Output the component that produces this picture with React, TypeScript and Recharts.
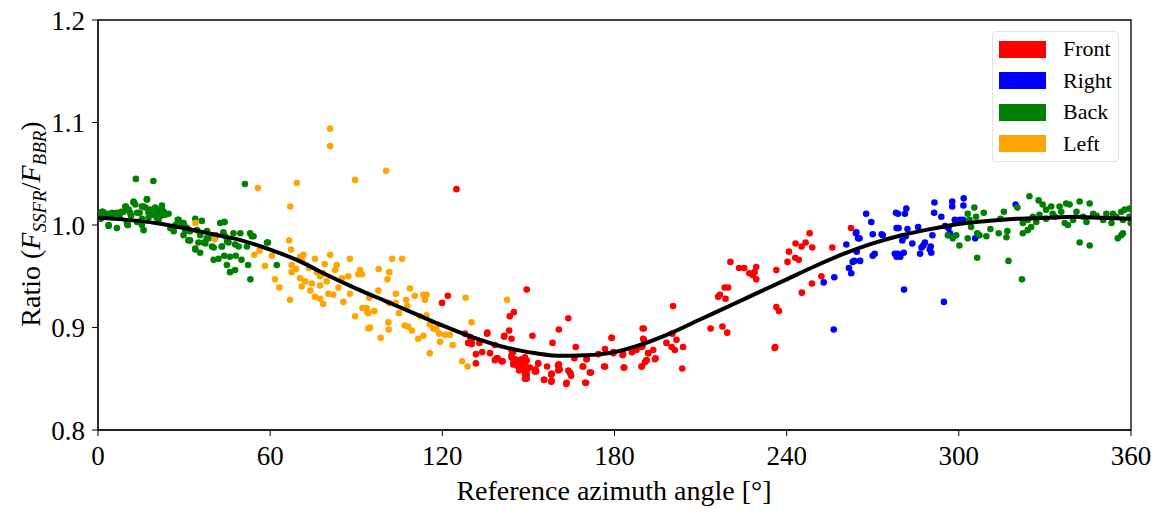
import React from 'react';
import { ScatterChart, Scatter, XAxis, YAxis, ReferenceArea, Legend } from 'recharts';

const X_TICKS = [0, 60, 120, 180, 240, 300, 360];
const Y_TICKS = [0.8, 0.9, 1.0, 1.1, 1.2];

const BACK: [number, number][] = [
  [1.7, 1.013], [4.3, 1.011], [6.6, 1.012], [8.9, 1.013], [9.5, 1.018], [10.7, 1.015], [12.4, 1.023], [13, 1.02],
  [15.9, 1.018], [17, 1.025], [18.2, 1.015], [20, 1.016], [22.3, 1.015], [23.4, 1.011], [24.6, 1.011], [3.7, 1.0],
  [6.6, 0.997], [10.3, 1.0], [13.6, 1.003], [15.9, 0.995], [15.3, 1.0], [17.6, 1.007], [20.5, 1.007], [21.1, 1.005],
  [25.2, 0.997], [26.4, 0.994], [28.1, 1.005], [29.8, 1.002], [31, 0.997], [32.1, 0.994], [31.5, 0.985], [33.9, 1.006],
  [36.2, 1.004], [34.5, 0.995], [35.6, 0.99], [33.9, 0.976], [35.6, 0.973], [37.4, 0.982], [38.5, 0.987], [40.3, 0.978],
  [42.6, 1.002], [44, 1.003], [43.7, 0.993], [43.1, 0.979], [42, 0.967], [40.3, 0.966], [44.9, 0.961], [46, 0.969],
  [47.8, 0.956], [46, 0.954], [47.2, 0.992], [49.6, 0.992], [49, 0.979], [51.9, 0.979], [53, 0.992], [54.2, 0.989],
  [52.3, 0.961], [53.1, 0.947], [58.9, 0.983], [62.3, 0.961], [13.2, 1.045], [19.3, 1.043], [51.2, 1.04],
  [0.5, 1.01], [1, 1.006], [2.5, 1.009], [5, 1.008], [7.5, 1.009], [11.5, 1.009], [14.5, 1.012], [19, 1.01],
  [22, 1.009], [27, 1.0], [30, 1.0], [38, 0.994], [41, 0.99], [45, 0.984], [48, 0.97], [50, 0.966], [44, 0.97],
  [1.4, 1.013], [3.1, 1.011], [4.9, 1.012], [8.1, 1.013], [9.7, 1.018], [11.2, 1.012], [12.4, 1.022], [13.6, 1.012],
  [15.3, 1.018], [16.5, 1.017], [17.1, 1.025], [17.6, 1.012], [19.9, 1.017], [20.5, 1.012], [21.6, 1.015],
  [22.9, 1.013], [23.4, 1.01], [22.3, 1.019], [3.7, 0.999], [10.1, 1.002], [10.4, 1.0], [15.3, 1.006],
  [25.8, 0.997], [27.8, 1.005], [29.2, 1.002], [30.4, 0.994], [29.8, 0.99], [32.1, 0.985], [33.9, 0.977],
  [35, 0.983], [36.8, 0.983], [37.9, 0.987], [39.7, 0.979], [44.1, 1.003], [44.3, 0.989], [43.2, 0.979],
  [47.8, 0.981], [53.6, 0.989], [59.2, 0.983], [40.8, 0.988], [45.5, 0.983],
  [303.1, 1.011], [305.4, 1.017], [308.7, 1.012], [306, 1.008], [303.7, 1.005], [304.3, 0.998], [303.1, 0.987],
  [306.4, 0.992], [307.2, 0.99], [309.6, 0.989], [311, 0.996], [297.9, 0.987], [299.1, 0.99], [300.2, 0.98],
  [296.2, 0.99], [306.4, 0.968], [313.9, 0.992], [316.9, 0.994], [316.6, 0.988], [315.7, 1.013], [314.5, 1.006],
  [317.3, 0.965], [322, 0.947], [320.4, 1.017], [324.6, 1.028], [327.8, 1.024], [329.2, 1.02], [330.4, 1.015],
  [332.2, 1.018], [322.3, 1.002], [324, 1.005], [325.8, 1.008], [327, 1.003], [328.1, 1.01], [330.4, 1.006],
  [332.7, 1.011], [322.3, 0.992], [324, 0.995], [325.2, 0.998], [335.1, 1.018], [337.4, 1.021], [338.6, 1.02],
  [335.7, 1.013], [336.9, 1.002], [338, 1.0], [339.8, 1.005], [341, 1.013], [342.1, 1.023], [343.3, 1.008],
  [344.5, 1.003], [345.6, 1.021], [346.8, 1.011], [342.1, 0.983], [345.6, 0.98], [350.3, 1.005], [351.4, 1.011],
  [353.7, 1.011], [353.2, 1.002], [354.9, 1.008], [356.6, 1.013], [357.8, 1.015], [359.5, 1.016], [357.2, 1.005],
  [359.5, 1.008], [359.9, 1.002], [355.4, 0.987], [356.6, 0.99], [357.2, 0.992], [348, 1.009], [333.5, 1.008],
];

const RIGHT: [number, number][] = [
  [252.9, 0.944], [256.6, 0.949], [256.4, 0.898], [260.8, 0.981], [264.3, 0.993], [264.9, 0.987], [265.4, 0.987],
  [264.1, 0.992], [267.7, 1.011], [269.5, 1.003], [270, 0.991], [261.7, 0.958], [262.5, 0.953], [263, 0.964],
  [263.6, 0.965], [265.6, 0.965], [264.4, 0.974], [270, 0.97], [270.7, 0.972], [273.1, 0.991], [273.5, 0.99],
  [278.1, 1.012], [278.3, 0.997], [277.7, 0.972], [278.3, 0.969], [278.8, 1.011], [281.2, 1.011], [281.7, 1.016],
  [279, 0.997], [281.5, 0.989], [280.3, 0.985], [282.1, 0.996], [285.8, 0.998], [283.8, 0.982], [287, 0.978],
  [287.6, 0.98], [288.2, 0.983], [290.2, 0.979], [289.9, 0.976], [290.4, 0.973], [278.8, 0.972], [279.6, 0.969],
  [280.8, 0.973], [286.5, 0.972], [280.9, 0.937], [294.8, 0.925], [291.5, 1.022], [297.7, 1.023], [297.7, 1.018],
  [301.7, 1.026], [301.6, 1.019], [291.4, 1.012], [293.9, 1.008], [290.8, 0.99], [295.2, 0.999], [296.4, 0.997],
  [296.9, 0.992], [298.6, 1.005], [300.4, 1.005], [301.5, 1.005], [296.3, 0.99], [305.7, 0.987], [319.8, 1.02],
];

const FRONT: [number, number][] = [
  [124.9, 1.035], [149.4, 0.937], [121.9, 0.931], [119.9, 0.924], [144.9, 0.915], [143.5, 0.911], [163.9, 0.909],
  [143.3, 0.897], [144.1, 0.889], [141.5, 0.891], [151.4, 0.892], [160.6, 0.898], [158.4, 0.885], [166.5, 0.881],
  [179, 0.89], [176.7, 0.879], [179.6, 0.876], [183, 0.874], [186.2, 0.876], [187.6, 0.878], [174.4, 0.874],
  [170.3, 0.869], [168.9, 0.862], [171.4, 0.856], [169.8, 0.846], [176.7, 0.862], [183.2, 0.861], [163.3, 0.846],
  [164.7, 0.855], [163.9, 0.858], [160.6, 0.864], [160.4, 0.858], [158.1, 0.855], [158.1, 0.848], [155.4, 0.849],
  [153.4, 0.865], [152.5, 0.859], [152.3, 0.857], [149.4, 0.854], [148.8, 0.85], [148.2, 0.86], [147.6, 0.865],
  [146.5, 0.862], [145.9, 0.868], [144.8, 0.867], [144.1, 0.873], [149.4, 0.868], [148.9, 0.865], [144.1, 0.878],
  [141, 0.867], [138.9, 0.87], [138.3, 0.868], [136.6, 0.875], [133.9, 0.876], [131.7, 0.874], [131.7, 0.865],
  [135.6, 0.894], [138.3, 0.883], [132.9, 0.885], [130.2, 0.884], [129.6, 0.891], [127.9, 0.894], [129, 0.885],
  [190.2, 0.899], [190.2, 0.888], [189.4, 0.881], [191.7, 0.875], [193.5, 0.878], [191.1, 0.868], [190.6, 0.866],
  [189.4, 0.862], [194.3, 0.87], [198.1, 0.885], [200.2, 0.894], [200.4, 0.921], [201.6, 0.888], [199.9, 0.881],
  [201, 0.878], [203.9, 0.881], [203.6, 0.86], [213.5, 0.899], [217.6, 0.901], [219.3, 0.895], [220.4, 0.964],
  [216.1, 0.93], [216.7, 0.932], [218.7, 0.928], [218.4, 0.939], [219.6, 0.939], [223.4, 0.958], [225.2, 0.958],
  [227, 0.953], [228.2, 0.951], [228.8, 0.954], [229.4, 0.959], [229.4, 0.947], [236.4, 0.956], [236.4, 0.92],
  [237.3, 0.916], [236, 0.881], [235.8, 0.88], [240.3, 0.964], [240.8, 0.974], [243.1, 0.982], [243, 0.968],
  [244.2, 0.966], [245.2, 0.979], [246.6, 0.983], [248, 0.992], [248.9, 0.978], [245.3, 0.934], [248.8, 0.943],
  [252.1, 0.95], [255.9, 0.978], [262.4, 0.997], [146.8, 0.858], [150.5, 0.861], [156.5, 0.862], [166, 0.87],
  [130.2, 0.886], [135.7, 0.895], [139.3, 0.87], [140.6, 0.867], [141.6, 0.892], [144.7, 0.876], [144.1, 0.871],
  [145.3, 0.869], [146.5, 0.868], [147.6, 0.869], [148.8, 0.871], [144.7, 0.864], [145.9, 0.863], [147.1, 0.861],
  [148.2, 0.86], [149.4, 0.858], [148.8, 0.855], [149.4, 0.85], [153.4, 0.865], [152.7, 0.857], [155.5, 0.849],
  [158, 0.847], [158, 0.854], [160.9, 0.859], [160.3, 0.863], [163.2, 0.845], [164.4, 0.856], [164.9, 0.853],
  [169.1, 0.862], [170.3, 0.869], [170.1, 0.846], [171.8, 0.856], [176.4, 0.862], [179.6, 0.875], [182.8, 0.873],
  [183.4, 0.861], [186, 0.876], [187.7, 0.879], [189.8, 0.899], [190, 0.889], [189.8, 0.882], [191.8, 0.875],
  [191.2, 0.868], [189.5, 0.862], [194.1, 0.869], [179, 0.89],
];

const LEFT: [number, number][] = [
  [34, 1.002], [40.6, 0.986], [55.7, 1.036], [69.3, 1.041], [67, 1.018], [89.6, 1.044], [80.9, 1.094], [80.9, 1.077],
  [66.6, 0.985], [67.3, 0.976], [56.3, 0.975], [54.5, 0.971], [60.6, 0.97], [58.2, 0.96], [61.7, 0.947], [63.2, 0.939],
  [66.9, 0.927], [67.5, 0.961], [67.5, 0.954], [70.4, 0.969], [71.6, 0.971], [71, 0.966], [75.6, 0.967], [70.4, 0.948],
  [72.2, 0.945], [71, 0.94], [74.5, 0.943], [77.4, 0.95], [78.5, 0.953], [76.3, 0.954], [77.4, 0.941], [79.7, 0.945],
  [80.9, 0.971], [83.2, 0.961], [82.6, 0.956], [83.8, 0.939], [82, 0.932], [80.3, 0.933], [78.5, 0.923], [77.4, 0.928],
  [85.5, 0.925], [87.8, 0.967], [87.2, 0.95], [90.7, 0.952], [91.3, 0.956], [87.8, 0.933], [89.6, 0.911], [93.6, 0.919],
  [94.2, 0.914], [75.6, 0.93], [100.4, 1.053], [102.5, 0.967], [106, 0.967], [97.8, 0.957], [101.5, 0.954],
  [100.9, 0.947], [92, 0.952], [97.7, 0.936], [94.5, 0.929], [92.2, 0.919], [93.9, 0.915], [96.3, 0.916], [94.8, 0.9],
  [94.2, 0.899], [98.5, 0.89], [101.2, 0.905], [101.3, 0.898], [101.5, 0.924], [103.8, 0.933], [103.7, 0.924],
  [107.4, 0.927], [107.8, 0.921], [104.9, 0.914], [108.7, 0.938], [110.4, 0.931], [113.4, 0.932], [113.9, 0.927],
  [114.5, 0.932], [112.2, 0.911], [114.5, 0.912], [106.9, 0.902], [108.1, 0.901], [109.4, 0.897], [111.6, 0.889],
  [113.4, 0.892], [115.6, 0.903], [116.8, 0.899], [118.6, 0.903], [117.9, 0.898], [118.9, 0.894], [120.9, 0.893],
  [122.6, 0.893], [119.2, 0.886], [123.6, 0.883], [115.6, 0.875], [128.1, 0.929], [130.2, 0.905], [142.6, 0.927],
  [126.9, 0.867], [128.8, 0.862], [73.5, 0.958], [79, 0.962], [85, 0.948], [74, 0.936], [69, 0.957],
];

const FIT_ANGLE = [0, 10, 20, 30, 40, 50, 60, 70, 80, 90, 100, 110, 120, 130, 140, 150, 160, 170, 180, 190, 200, 210, 220, 230, 240, 250, 260, 270, 280, 290, 300, 310, 320, 330, 340, 350, 360];
const FIT_RATIO = [1.007, 1.005, 1.002, 0.997, 0.991, 0.985, 0.976, 0.965, 0.951, 0.938, 0.926, 0.914, 0.902, 0.891, 0.882, 0.876, 0.8725, 0.873, 0.876, 0.884, 0.895, 0.908, 0.921, 0.934, 0.947, 0.96, 0.972, 0.982, 0.99, 0.996, 1.001, 1.004, 1.006, 1.007, 1.008, 1.007, 1.006];

const SERIES = [
  { name: 'Front', color: '#ff0000', points: FRONT },
  { name: 'Right', color: '#0000ff', points: RIGHT },
  { name: 'Back', color: '#008000', points: BACK },
  { name: 'Left', color: '#ffa500', points: LEFT },
];

const FONT = '"Liberation Serif", "Times New Roman", serif';

const toData = (pts: [number, number][]) => pts.map(([a, r]) => ({ angle: a, ratio: r }));
const fitData = FIT_ANGLE.map((a, i) => ({ angle: a, ratio: FIT_RATIO[i] }));

const Dot = (color: string) => (props: any) => (
  <circle cx={props.cx} cy={props.cy} r={3.3} fill={color} />
);

const LegendBox = () => (
  <div
    style={{
      width: 127,
      height: 131,
      border: '1px solid #e3e3e3',
      borderRadius: 4,
      background: 'rgba(255,255,255,0.8)',
      position: 'relative',
      fontFamily: FONT,
      fontSize: 22,
      color: '#000',
      boxSizing: 'border-box',
    }}
  >
    {SERIES.map((s, i) => (
      <div key={s.name} style={{ position: 'absolute', left: 6, top: 8 + i * 31.6, height: 18, display: 'flex', alignItems: 'center' }}>
        <div style={{ width: 47, height: 17, background: s.color }} />
        <span style={{ marginLeft: 17, lineHeight: '18px', whiteSpace: 'nowrap' }}>{s.name}</span>
      </div>
    ))}
  </div>
);

const YLabel = () => (
  <text
    x={40}
    y={224}
    transform="rotate(-90, 40, 224)"
    textAnchor="middle"
    fontFamily={FONT}
    fontSize={28}
    fill="#000"
  >
    <tspan>Ratio (</tspan>
    <tspan fontStyle="italic">F</tspan>
    <tspan fontStyle="italic" fontSize={19} dy={6}>SSFR</tspan>
    <tspan dy={-6}>/</tspan>
    <tspan fontStyle="italic">F</tspan>
    <tspan fontStyle="italic" fontSize={19} dy={6}>BBR</tspan>
    <tspan dy={-6}>)</tspan>
  </text>
);

const XLabel = () => (
  <text x={614} y={500} textAnchor="middle" fontFamily={FONT} fontSize={28} fill="#000">
    Reference azimuth angle [°]
  </text>
);

export default function App() {
  return (
    <div style={{ position: 'relative', width: 1164, height: 518, background: '#fff' }}>
      <style>{`body{margin:0;background:#fff}`}</style>
      <ScatterChart width={1164} height={518} margin={{ top: 20, right: 33, left: 0, bottom: 0 }}>
        <XAxis
          type="number"
          dataKey="angle"
          domain={[0, 360]}
          ticks={X_TICKS}
          allowDataOverflow
          height={88}
          tickSize={6}
          tickMargin={10}
          stroke="#000"
          tick={{ fontSize: 27, fontFamily: FONT, fill: '#000' }}
          label={{ content: () => <XLabel /> }}
        />
        <YAxis
          type="number"
          dataKey="ratio"
          domain={[0.8, 1.2]}
          ticks={Y_TICKS}
          allowDataOverflow
          width={98}
          tickSize={6}
          tickMargin={7}
          stroke="#000"
          tickFormatter={(v: number) => v.toFixed(1)}
          tick={{ fontSize: 27, fontFamily: FONT, fill: '#000' }}
          label={{ content: () => <YLabel /> }}
        />
        <ReferenceArea x1={0} x2={360} y1={0.8} y2={1.2} fill="none" stroke="#000" strokeWidth={1.3} />
        {SERIES.map((s) => (
          <Scatter
            key={s.name}
            name={s.name}
            data={toData(s.points)}
            fill={s.color}
            shape={Dot(s.color)}
            isAnimationActive={false}
          />
        ))}
        <Scatter
          name="fit"
          data={fitData}
          line={{ stroke: '#000', strokeWidth: 4 }}
          lineJointType="monotoneX"
          shape={() => <g />}
          legendType="none"
          isAnimationActive={false}
        />
        <Legend
          layout="vertical"
          align="center"
          verticalAlign="middle"
          content={() => <LegendBox />}
          wrapperStyle={{ position: 'absolute', left: 992, top: 31, width: 130, height: 134 }}
        />
      </ScatterChart>
    </div>
  );
}
